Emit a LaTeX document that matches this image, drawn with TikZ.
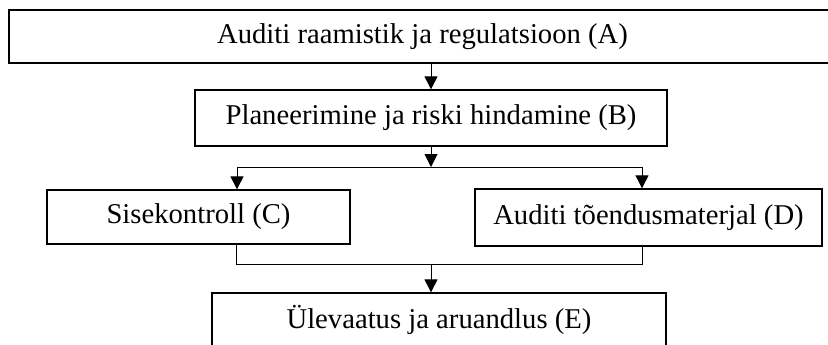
\documentclass[tikz,border=0pt]{standalone}
\usepackage{fontspec}
\setmainfont{Liberation Serif}
\usetikzlibrary{arrows.meta}

\begin{document}
\begin{tikzpicture}[x=0.75pt, y=-0.75pt]
  \tikzset{stage/.style={draw, line width=1pt, inner sep=0pt, font=\fontsize{21.5}{26}\selectfont}}
  \tikzset{link/.style={line width=0.75pt}}
  \tikzset{flow/.style={link, -{Triangle[length=9.75pt,width=9.75pt]}}}
  \useasboundingbox (0,0) rectangle (828,344);
  % stages
  \node[stage, minimum width=620.25pt, minimum height=39.75pt] (A) at (422.5,36.5) {Auditi raamistik ja regulatsioon (A)};
  \node[stage, minimum width=354pt, minimum height=42pt] (B) at (431,118) {Planeerimine ja riski hindamine (B)};
  \node[stage, minimum width=227.25pt, minimum height=40.5pt] (C) at (198.5,217) {Sisekontroll (C)};
  \node[stage, minimum width=260.25pt, minimum height=42.75pt] (D) at (648.5,217.5) {Auditi tõendusmaterjal (D)};
  \node[stage, minimum width=340.5pt, minimum height=40.5pt] (E) at (439,320) {Ülevaatus ja aruandlus (E)};
  % branch points
  \coordinate (split) at (431,167);
  \coordinate (split-C) at (237,167);
  \coordinate (split-D) at (642,167);
  \coordinate (join) at (431,264);
  \coordinate (join-C) at (236,264);
  \coordinate (join-D) at (642,264);
  \draw[flow] (A.south -| B.north) -- (B.north);
  \draw[flow] (B.south) -- (split);
  \draw[link] (split-C) -- (split-D);
  \draw[flow] (split-C) -- (C.north -| split-C);
  \draw[flow] (split-D) -- (D.north -| split-D);
  \draw[link] (C.south -| join-C) -- (join-C) -- (join-D) -- (D.south -| join-D);
  \draw[flow] (join) -- (E.north -| join);
\end{tikzpicture}
\end{document}
